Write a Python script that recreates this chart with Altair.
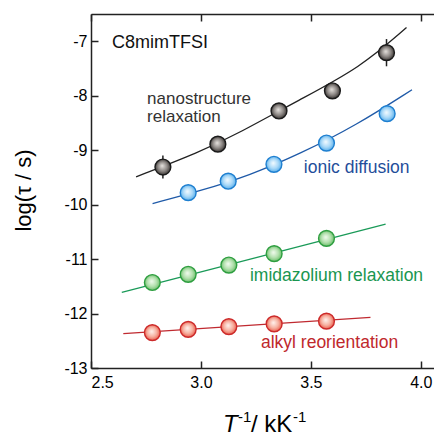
import altair as alt
import pandas as pd

# ---------------- data ----------------
nano_x = [2.827, 3.077, 3.355, 3.598, 3.844]
nano_y = [-9.31, -8.89, -8.28, -7.91, -7.21]
nano_err = [0.21, 0.0, 0.0, 0.0, 0.25]

ion_x = [2.942, 3.124, 3.332, 3.571, 3.847]
ion_y = [-9.78, -9.57, -9.26, -8.87, -8.33]

imid_x = [2.779, 2.942, 3.127, 3.333, 3.571]
imid_y = [-11.43, -11.28, -11.11, -10.90, -10.62]

alkyl_x = [2.779, 2.942, 3.127, 3.333, 3.571]
alkyl_y = [-12.35, -12.29, -12.24, -12.19, -12.14]

# fitted curves
nano_fit_x = [2.705, 2.996, 3.147, 3.45, 3.723, 3.935]
nano_fit_y = [-9.49, -9.03, -8.74, -8.07, -7.49, -6.75]
ion_fit_x = [2.78, 2.996, 3.223, 3.45, 3.708, 3.96]
ion_fit_y = [-9.98, -9.75, -9.46, -9.07, -8.54, -7.89]
imid_fit_x = [2.64, 3.84]
imid_fit_y = [-11.61, -10.36]
alkyl_fit_x = [2.647, 3.771]
alkyl_fit_y = [-12.37, -12.07]

x_ticks = [2.5, 3.0, 3.5, 4.0]
y_ticks = [-13, -12, -11, -10, -9, -8, -7]

labels = ["C8mimTFSI", "nanostructure", "relaxation", "ionic diffusion",
          "imidazolium relaxation", "alkyl reorientation"]
label_x = [2.595, 2.755, 2.755, 3.468, 3.223, 3.273]
label_y = [-7.04, -8.06, -8.39, -9.33, -11.31, -12.54]
label_color = ["#111111", "#333333", "#333333", "#1f4e9a", "#1a9650", "#c0282c"]
label_size = [18, 17, 17, 17.5, 17.5, 17.5]

series = ["nano", "ion", "imid", "alkyl"]
line_colors = ["#222222", "#1f5aa8", "#1a9a58", "#c02a30"]

FONT = "Liberation Sans"
W, H = 343, 354
XD = [2.5, 4.06]
YD = [-13, -6.5]

# ---------------- tables ----------------
fit_rows = []
for s, xs_, ys_ in zip(series, [nano_fit_x, ion_fit_x, imid_fit_x, alkyl_fit_x],
                       [nano_fit_y, ion_fit_y, imid_fit_y, alkyl_fit_y]):
    for a, b in zip(xs_, ys_):
        fit_rows.append({"s": s, "x": a, "y": b})
fits = pd.DataFrame(fit_rows)

err = pd.DataFrame({"x": nano_x, "lo": [y - e for y, e in zip(nano_y, nano_err)],
                    "hi": [y + e for y, e in zip(nano_y, nano_err)]})
err = err[err["lo"] != err["hi"]]

lab = pd.DataFrame({"t": labels, "x": label_x, "y": label_y, "c": label_color, "fs": label_size})

xs = alt.Scale(domain=XD, nice=False, zero=False)
ys = alt.Scale(domain=YD, nice=False, zero=False)

ax_common = dict(grid=False, labelFont=FONT, titleFont=FONT, domainColor="#222222",
                 tickColor="#222222", domainWidth=1.5, tickWidth=1.5)

x_bottom = alt.Axis(values=x_ticks, ticks=False, tickSize=0, labelFontSize=16,
                    labelColor="black", labelPadding=6, title=None,
                    labelExpr="format(datum.value, '.1f')", **ax_common)
x_in_bottom = alt.Axis(orient="top", offset=-H, values=x_ticks, tickSize=7,
                       labels=False, domain=False, title=None, **ax_common)
x_top = alt.Axis(orient="bottom", offset=-H, values=x_ticks, tickSize=7,
                 labels=False, title=None, **ax_common)

y_left = alt.Axis(values=y_ticks, ticks=False, tickSize=0, labelFontSize=16,
                  labelColor="black", labelPadding=4,
                  labelExpr="datum.value < 0 ? '-' + abs(datum.value) : '' + datum.value",
                  title="log(τ / s)", titleFontSize=22, titleFontWeight="normal",
                  titleColor="black", titleX=-68, titleY=176, titleAlign="center",
                  titleBaseline="middle", titleAngle=-90, **ax_common)
y_in_left = alt.Axis(orient="right", offset=-W, values=y_ticks, tickSize=7,
                     labels=False, domain=False, title=None, **ax_common)

lines = alt.Chart(fits).mark_line(strokeWidth=1.3, interpolate="basis").encode(
    x=alt.X("x:Q", scale=xs, axis=x_bottom),
    y=alt.Y("y:Q", scale=ys, axis=y_left),
    color=alt.Color("s:N", scale=alt.Scale(domain=series, range=line_colors), legend=None),
    detail="s:N",
)

bars = alt.Chart(err).mark_rule(color="#222222", strokeWidth=1.5).encode(
    x=alt.X("x:Q", scale=xs, axis=x_in_bottom),
    y=alt.Y("lo:Q", scale=ys, axis=y_in_left),
    y2="hi:Q",
)


def grad(c0, c1, c2):
    return alt.RadialGradient(
        gradient="radial",
        stops=[alt.GradientStop(offset=0, color=c0),
               alt.GradientStop(offset=0.55, color=c1),
               alt.GradientStop(offset=1, color=c2)],
        x1=0.45, y1=0.42, r1=0, x2=0.5, y2=0.5, r2=0.55,
    )


def pts(xv, yv, stroke, g, axis_x=None):
    df = pd.DataFrame({"x": xv, "y": yv})
    return alt.Chart(df).mark_point(filled=True, shape="circle", size=250, fill=g,
                                    stroke=stroke, strokeWidth=1.4, opacity=1).encode(
        x=alt.X("x:Q", scale=xs, axis=axis_x),
        y=alt.Y("y:Q", scale=ys, axis=None),
    )


p_nano = pts(nano_x, nano_y, "#1a1a1a", grad("#e6e2de", "#8c8784", "#2a2624"), axis_x=x_top)
p_ion = pts(ion_x, ion_y, "#1e7fd0", grad("#f4fbff", "#a8d8f8", "#4aa6e6"))
p_imid = pts(imid_x, imid_y, "#2e9e40", grad("#f2fbef", "#b2e0ad", "#5cb65c"))
p_alkyl = pts(alkyl_x, alkyl_y, "#cc2a2a", grad("#fff3ee", "#f6b0a0", "#e8503e"))

texts = alt.Chart(lab).mark_text(align="left", baseline="middle", font=FONT).encode(
    x=alt.X("x:Q", scale=xs, axis=None),
    y=alt.Y("y:Q", scale=ys, axis=None),
    text="t:N",
    color=alt.Color("c:N", scale=None),
    size=alt.Size("fs:Q", scale=None),
)

one = alt.Data(values=[{}])
xt_T = alt.Chart(one).mark_text(text="T", fontStyle="italic", fontSize=24, font=FONT,
                                align="left", baseline="alphabetic", color="black").encode(
    x=alt.value(132), y=alt.value(418))
xt_s1 = alt.Chart(one).mark_text(text="-1", fontSize=15, font=FONT,
                                 align="left", baseline="alphabetic", color="black").encode(
    x=alt.value(147), y=alt.value(408))
xt_k = alt.Chart(one).mark_text(text="/ kK", fontSize=24, font=FONT,
                                align="left", baseline="alphabetic", color="black").encode(
    x=alt.value(160), y=alt.value(418))
xt_s2 = alt.Chart(one).mark_text(text="-1", fontSize=15, font=FONT,
                                 align="left", baseline="alphabetic", color="black").encode(
    x=alt.value(202), y=alt.value(408))

chart = alt.layer(lines, bars, p_nano, p_ion, p_imid, p_alkyl, texts,
                  xt_T, xt_s1, xt_k, xt_s2).resolve_axis(
    x="independent", y="independent"
).properties(
    width=W, height=H, autosize=alt.AutoSizeParams(type="none"),
    padding={"left": 91, "top": 14, "right": 0, "bottom": 70},
).configure_view(stroke=None).configure(background="white")

chart.save("out.html", embed_options={"renderer": "svg", "actions": False})
